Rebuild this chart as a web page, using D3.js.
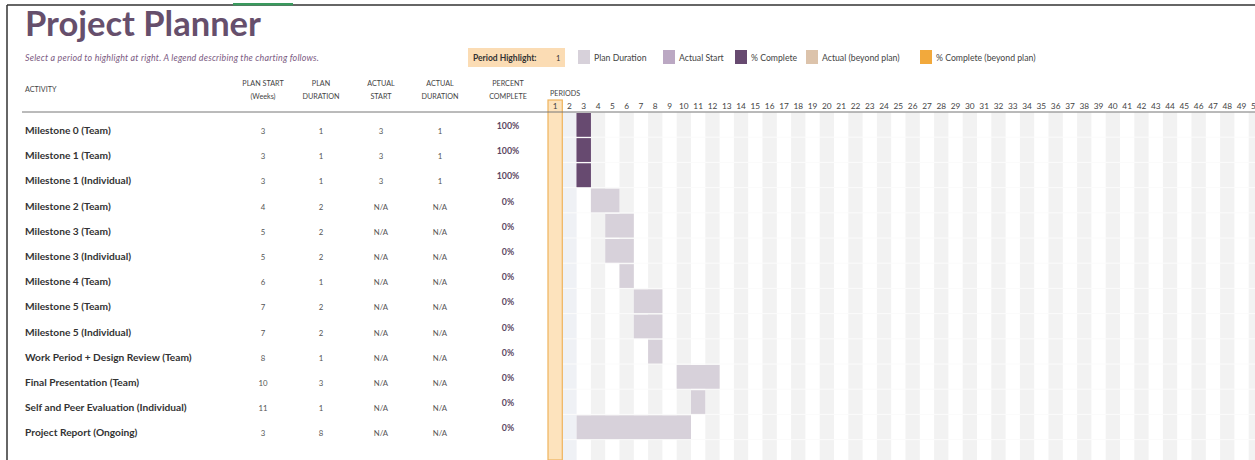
<!DOCTYPE html>
<html>
<head>
<meta charset="utf-8">
<script src="https://cdn.jsdelivr.net/npm/d3@7"></script>
<style>
  body { margin: 0; background: #fff; }
  text { font-family: Lato, "Open Sans", sans-serif; }
</style>
</head>
<body>
<svg id="chart" width="1255" height="460"></svg>
<script>
const activities = [
    "Milestone 0 (Team)", "Milestone 1 (Team)", "Milestone 1 (Individual)",
    "Milestone 2 (Team)", "Milestone 3 (Team)", "Milestone 3 (Individual)",
    "Milestone 4 (Team)", "Milestone 5 (Team)", "Milestone 5 (Individual)",
    "Work Period + Design Review (Team)", "Final Presentation (Team)",
    "Self and Peer Evaluation (Individual)", "Project Report (Ongoing)"
]
const planStart = [3, 3, 3, 4, 5, 5, 6, 7, 7, 8, 10, 11, 3]
const planDuration = [1, 1, 1, 2, 2, 2, 1, 2, 2, 1, 3, 1, 8]
const actualStart = [3, 3, 3, null, null, null, null, null, null, null, null, null, null]
const actualDuration = [1, 1, 1, null, null, null, null, null, null, null, null, null, null]
const percentComplete = [100, 100, 100, 0, 0, 0, 0, 0, 0, 0, 0, 0, 0]
const periods = d3.range(1, 51)
const highlightPeriod = 1

const legendItems = ["Plan Duration", "Actual Start", "% Complete", "Actual (beyond plan)", "% Complete (beyond plan)"]
const legendColors = ["#d7d1da", "#bba8c3", "#674a70", "#dcc3ab", "#f2a93c"]

const svg = d3.select("#chart")
const width = 1255, height = 460

const x = d3.scaleBand().domain(periods).range([548, 548 + 50 * 14.3])
const y = d3.scaleBand().domain(d3.range(activities.length)).range([112, 112 + activities.length * 25.2])

// frame
svg.append("line").attr("x1", 7).attr("x2", width).attr("y1", 5).attr("y2", 5)
    .attr("stroke", "#333").attr("stroke-width", 1.5)
svg.append("line").attr("x1", 7).attr("x2", 7).attr("y1", 5).attr("y2", height)
    .attr("stroke", "#333").attr("stroke-width", 1.5)
svg.append("rect").attr("x", 233).attr("y", 3).attr("width", 60).attr("height", 2.5).attr("fill", "#3a9a5e")

// title
svg.append("text").attr("x", 25).attr("y", 36).text("Project Planner")
    .attr("font-size", 34.5).attr("font-weight", 700).attr("fill", "#664f6c")
svg.append("text").attr("x", 25).attr("y", 61)
    .text("Select a period to highlight at right.  A legend describing the charting follows.")
    .attr("font-size", 8.9).attr("font-style", "italic").attr("fill", "#7b5a82")
    .attr("letter-spacing", 0.2)

// legend
svg.append("rect").attr("x", 468).attr("y", 48).attr("width", 97).attr("height", 19).attr("fill", "#fbdcb4")
svg.append("text").attr("x", 473).attr("y", 61).text("Period Highlight:")
    .attr("font-size", 8.5).attr("font-weight", 700).attr("fill", "#333")
svg.append("text").attr("x", 556).attr("y", 61).text(highlightPeriod)
    .attr("font-size", 7.5).attr("fill", "#333")

const legendX = [578, 663, 735, 806, 920]
const legend = svg.selectAll(".legend").data(legendItems).enter().append("g")
    .attr("class", "legend")
    .attr("transform", (d, i) => `translate(${legendX[i]},50)`)
legend.append("rect").attr("width", 12).attr("height", 14).attr("fill", (d, i) => legendColors[i])
legend.append("text").attr("x", 16).attr("y", 10.5).text(d => d)
    .attr("font-size", 8.7).attr("fill", "#444")

// column headers
const headers = [
    { x: 25, lines: ["ACTIVITY"], anchor: "start" },
    { x: 263, lines: ["PLAN START", "(Weeks)"] },
    { x: 321, lines: ["PLAN", "DURATION"] },
    { x: 381, lines: ["ACTUAL", "START"] },
    { x: 440, lines: ["ACTUAL", "DURATION"] },
    { x: 508, lines: ["PERCENT", "COMPLETE"] }
]
headers.forEach(h => {
    const t = svg.append("text").attr("text-anchor", h.anchor || "middle")
        .attr("font-size", 7.2).attr("fill", "#444")
    if (h.lines.length === 1) {
        t.append("tspan").attr("x", h.x).attr("y", 92).text(h.lines[0])
    } else {
        h.lines.forEach((l, i) => t.append("tspan").attr("x", h.x).attr("y", 86 + i * 13).text(l))
    }
})
svg.append("text").attr("x", 550).attr("y", 96).text("PERIODS")
    .attr("font-size", 7.2).attr("fill", "#444")

// period stripes
const chartBottom = height
svg.selectAll(".stripe").data(periods.filter(p => p % 2 === 0)).enter().append("rect")
    .attr("class", "stripe")
    .attr("x", d => x(d)).attr("y", y(0))
    .attr("width", x.bandwidth()).attr("height", chartBottom - y(0))
    .attr("fill", d => d === 2 ? "#eff1f5" : "#f2f2f2")

// row separators
svg.selectAll(".sep").data(d3.range(activities.length + 1)).enter().append("line")
    .attr("x1", x(1)).attr("x2", width)
    .attr("y1", d => y(0) + d * y.step()).attr("y2", d => y(0) + d * y.step())
    .attr("stroke", "#fbfbfb").attr("stroke-width", 1)

// highlight column
svg.append("rect").attr("x", x(highlightPeriod)).attr("y", 100)
    .attr("width", x.bandwidth()).attr("height", chartBottom - 100)
    .attr("fill", "#fde3bd").attr("stroke", "#efb35c").attr("stroke-width", 1.2)

// period labels
svg.selectAll(".period").data(periods).enter().append("text")
    .attr("class", "period")
    .attr("x", d => x(d) + x.bandwidth() / 2).attr("y", 109)
    .attr("text-anchor", "middle").text(d => d)
    .attr("font-size", 8.3).attr("fill", "#444")

// header rule
svg.append("line").attr("x1", 22).attr("x2", width).attr("y1", 112).attr("y2", 112)
    .attr("stroke", "#777").attr("stroke-width", 1)

// plan duration bars
svg.selectAll(".plan").data(activities).enter().append("rect")
    .attr("class", "plan")
    .attr("x", (d, i) => x(planStart[i]))
    .attr("y", (d, i) => y(i) + 1)
    .attr("width", (d, i) => planDuration[i] * x.step())
    .attr("height", y.bandwidth() - 1.5)
    .attr("fill", legendColors[0])

// actual start / % complete bars
const actualRows = d3.range(activities.length).filter(i => actualStart[i] !== null)
svg.selectAll(".actual").data(actualRows).enter().append("rect")
    .attr("class", "actual")
    .attr("x", i => x(actualStart[i]))
    .attr("y", i => y(i) + 1)
    .attr("width", i => actualDuration[i] * x.step())
    .attr("height", y.bandwidth() - 1.5)
    .attr("fill", legendColors[1])
svg.selectAll(".complete").data(actualRows).enter().append("rect")
    .attr("class", "complete")
    .attr("x", i => x(actualStart[i]))
    .attr("y", i => y(i) + 1)
    .attr("width", i => actualDuration[i] * x.step() * percentComplete[i] / 100)
    .attr("height", y.bandwidth() - 1.5)
    .attr("fill", legendColors[2])

// table rows
const rows = svg.selectAll(".row").data(activities).enter().append("g")
    .attr("class", "row")
    .attr("transform", (d, i) => `translate(0,${y(i)})`)
rows.append("text").attr("x", 25).attr("y", 22).text(d => d)
    .attr("font-size", 10.2).attr("font-weight", 700).attr("fill", "#333")
const cell = (cx, fn) => rows.append("text").attr("x", cx).attr("y", 22)
    .attr("text-anchor", "middle").text(fn)
    .attr("font-size", 7.8).attr("fill", "#555")
cell(263, (d, i) => planStart[i])
cell(321, (d, i) => planDuration[i])
cell(381, (d, i) => actualStart[i] === null ? "N/A" : actualStart[i])
cell(440, (d, i) => actualDuration[i] === null ? "N/A" : actualDuration[i])
rows.append("text").attr("x", 508).attr("y", 17).attr("text-anchor", "middle")
    .text((d, i) => percentComplete[i] + "%")
    .attr("font-size", 8.8).attr("font-weight", 700).attr("fill", "#5c4862")
</script>
</body>
</html>
